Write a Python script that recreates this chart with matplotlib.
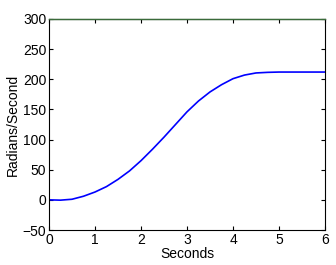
import matplotlib
matplotlib.use("Agg")
import matplotlib.pyplot as plt

t = [0, 0.25, 0.5, 0.75, 1, 1.25, 1.5, 1.75, 2, 2.25, 2.5, 2.75, 3, 3.25, 3.5,
     3.75, 4, 4.25, 4.5, 4.75, 5, 5.5, 6]
speed = [0, -0.5, 1, 6, 13, 22, 34, 48, 65, 84, 104, 125, 146, 164, 179,
         191, 201, 207, 210.5, 211.5, 212, 212, 212]
limit_t = [0, 6]
limit_v = [300, 300]
xticks = [0, 1, 2, 3, 4, 5, 6]
yticks = [-50, 0, 50, 100, 150, 200, 250, 300]

plt.rcParams['font.family'] = ['Liberation Sans', 'DejaVu Sans']
fig = plt.figure(figsize=(3.36, 2.65), dpi=100)
ax = fig.add_axes([49/336, 35/265, 276/336, 211/265])
ax.plot(limit_t, limit_v, color='#3a6b3a', lw=1.0, zorder=3, clip_on=False)
ax.plot(t, speed, color='#0000ff', lw=1.2)
ax.set_xlim(0, 6)
ax.set_ylim(-50, 300)
ax.set_xticks(xticks)
ax.set_yticks(yticks)
ax.tick_params(direction='in', top=True, right=True, labelsize=10, length=3, pad=2)
ax.set_xlabel('Seconds', fontsize=10, labelpad=0)
ax.set_ylabel('Radians/Second', fontsize=10, labelpad=2)
for s in ax.spines.values():
    s.set_linewidth(0.8)
fig.savefig('out.png', dpi=100)
